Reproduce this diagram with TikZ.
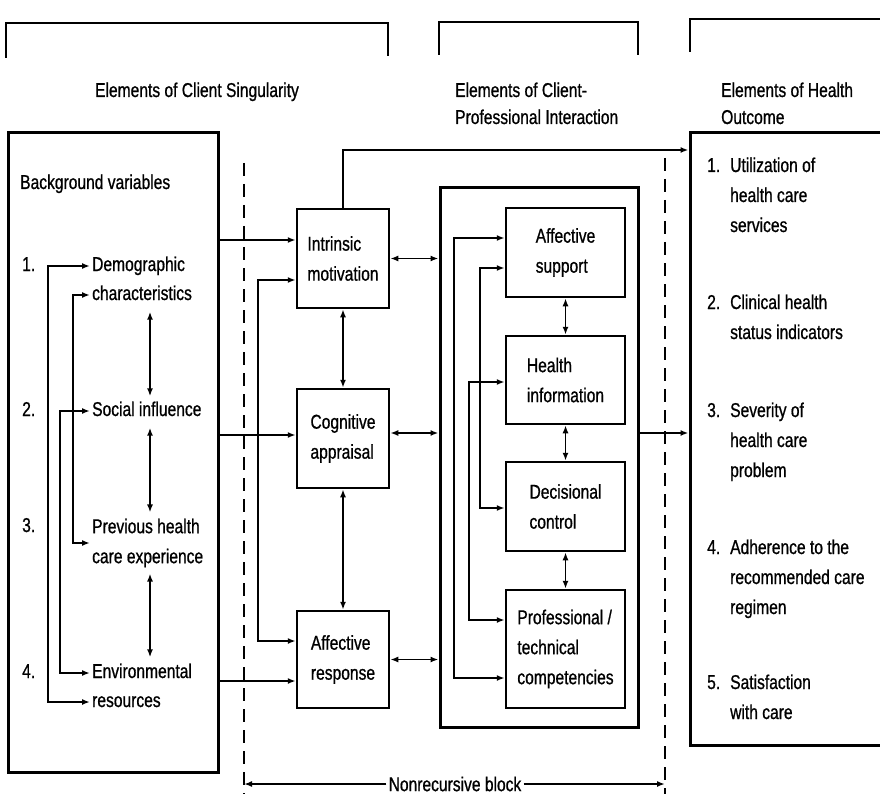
\documentclass[tikz,border=0pt]{standalone}
\usepackage{fontspec}
\setmainfont{Liberation Sans}[FakeStretch=0.78, FakeBold=0.8]
\usetikzlibrary{arrows.meta,calc}
\begin{document}
\begin{tikzpicture}[x=1pt,y=-1pt,
  txt/.style={font=\fontsize{20}{30}\selectfont, inner sep=0pt},
  head/.style={font=\fontsize{20}{27}\selectfont, inner sep=0pt},
  lbl/.style={txt, anchor=west, inner xsep=2pt, text height=14.5pt, text depth=4.5pt},
  outerbox/.style={draw, line width=3pt, inner sep=0pt},
  box/.style={draw, line width=2.5pt, txt, align=left},
  con/.style={line width=1.8pt},
  arr/.style={con, -{Latex[length=8pt,width=6pt]}},
  dbl/.style={con, {Latex[length=8pt,width=6pt]}-{Latex[length=8pt,width=6pt]}},
  dashline/.style={line width=1.7pt, dash pattern=on 13pt off 8pt}]
\useasboundingbox (0,0) rectangle (880,794);
\clip (0,0) rectangle (880,794);
\fill[white] (0,0) rectangle (880,794);

% top brackets
\draw[con] (6,58) -- (6,23) -- (388,23) -- (388,56);
\draw[con] (439,55) -- (439,22) -- (638,22) -- (638,55);
\draw[con] (690,52) -- (690,19) -- (890,19);

% headings
\node[head, anchor=base] (h1) at (197,97) {Elements of Client Singularity};
\node[head, anchor=base west, align=left] (h2) at (455,124) {Elements of Client-\\Professional Interaction};
\node[head, anchor=base west, align=left] (h3) at (721,124) {Elements of Health\\Outcome};

% left box
\node[outerbox, minimum width=210pt, minimum height=639pt] (bg) at (113,452.5) {};
\node[txt, anchor=base west] (bgt) at (20,189) {Background variables};
\node[lbl] (n1) at (20,266) {1.};
\node[lbl] (n2) at (20,411) {2.};
\node[lbl] (n3) at (20,527) {3.};
\node[lbl] (n4) at (20,673) {4.};
\node[lbl] (demo1) at (90,266) {Demographic};
\node[lbl] (demo2) at (90,295) {characteristics};
\node[lbl] (soc) at (90,411) {Social influence};
\node[txt, anchor=west, align=left, inner xsep=2pt] (prev) at (90,543) {Previous health\\care experience};
\node[lbl] (env1) at (90,673) {Environmental};
\node[lbl] (env2) at (90,702) {resources};

\coordinate (vx) at (150,0);
\draw[dbl, shorten <=7pt, shorten >=5pt] (demo2.south -| vx) -- (soc.north -| vx);
\draw[dbl, shorten <=7pt, shorten >=6pt] (soc.south -| vx) -- (prev.north -| vx);
\draw[dbl, shorten <=6pt, shorten >=6pt] (prev.south -| vx) -- (env1.north -| vx);

\coordinate (xA) at (48,0);
\coordinate (xB) at (73,0);
\coordinate (xC) at (60,0);
\draw[dbl] (demo1.west) -- (demo1.west -| xA) -- (env2.west -| xA) -- (env2.west);
\draw[dbl] (demo2.west) -- (demo2.west -| xB) -- (prev.west -| xB) -- (prev.west);
\draw[dbl] (soc.west) -- (soc.west -| xC) -- (env1.west -| xC) -- (env1.west);

% middle column
\node[box, minimum width=92pt, minimum height=99pt] (intr) at (343,258.5) {Intrinsic\\motivation};
\node[box, minimum width=92pt, minimum height=99pt] (cogn) at (343,438.5) {Cognitive\\appraisal};
\node[box, minimum width=92pt, minimum height=97pt] (affr) at (343,659.5) {Affective\\response};

% big box and inner boxes
\node[outerbox, minimum width=198pt, minimum height=539pt] (big) at (539,457.5) {};
\node[box, minimum width=119pt, minimum height=89pt] (asup) at (565.5,252.5) {Affective\\support};
\node[box, minimum width=119pt, minimum height=88pt] (hinf) at (565.5,380) {Health\\information};
\node[box, minimum width=119pt, minimum height=89pt] (dcon) at (565.5,506.5) {Decisional\\control};
\node[box, minimum width=119pt, minimum height=118pt] (prof) at (565.5,649) {Professional /\\technical\\competencies};

% outcome box
\node[outerbox, minimum width=210pt, minimum height=612pt] (outc) at (795,439) {};
\node[txt, anchor=base west] (o1n) at (707,172) {1.};
\node[txt, anchor=base west, align=left] (o1) at (730,232) {Utilization of\\health care\\services};
\node[txt, anchor=base west] (o2n) at (707,309) {2.};
\node[txt, anchor=base west, align=left] (o2) at (730,339) {Clinical health\\status indicators};
\node[txt, anchor=base west] (o3n) at (707,417) {3.};
\node[txt, anchor=base west, align=left] (o3) at (730,477) {Severity of\\health care\\problem};
\node[txt, anchor=base west] (o4n) at (707,554) {4.};
\node[txt, anchor=base west, align=left] (o4) at (730,614) {Adherence to the\\recommended care\\regimen};
\node[txt, anchor=base west] (o5n) at (707,689) {5.};
\node[txt, anchor=base west, align=left] (o5) at (730,719) {Satisfaction\\with care};

% row coordinates
\coordinate (r150) at (0,150);
\coordinate (r240) at (0,240);
\coordinate (r280) at (0,280);
\coordinate (r435) at (0,435);
\coordinate (r433) at (0,433);
\coordinate (r641) at (0,641);
\coordinate (r681) at (0,681);
\coordinate (xL) at (258,0);

\draw[arr] (bg.east |- r240) -- (intr.west |- r240);
\draw[arr] (bg.east |- r435) -- (cogn.west |- r435);
\draw[arr] (bg.east |- r681) -- (affr.west |- r681);
\draw[dbl] (intr.west |- r280) -| (xL |- r641) -- (affr.west |- r641);
\draw[arr] (intr.north) |- (outc.west |- r150);
\draw[dbl] (intr.south) -- (cogn.north);
\draw[dbl] (cogn.south) -- (affr.north);
\draw[dbl] (intr.east) -- (intr.east -| big.west);
\draw[dbl] (cogn.east |- r433) -- (big.west |- r433);
\draw[dbl] (affr.east) -- (affr.east -| big.west);
\draw[arr] (big.east |- r433) -- (outc.west |- r433);

% inner feedback lines
\coordinate (xa) at (454,0);
\coordinate (xb) at (480,0);
\coordinate (xc) at (469,0);
\coordinate (r238) at (0,238);
\coordinate (r268) at (0,268);
\coordinate (r382) at (0,382);
\coordinate (r508) at (0,508);
\coordinate (r620) at (0,620);
\coordinate (r678) at (0,678);
\draw[dbl] (asup.west |- r238) -| (xa |- r678) -- (prof.west |- r678);
\draw[dbl] (asup.west |- r268) -| (xb |- r508) -- (dcon.west |- r508);
\draw[dbl] (hinf.west |- r382) -| (xc |- r620) -- (prof.west |- r620);
\draw[dbl] (asup.south) -- (hinf.north);
\draw[dbl] (hinf.south) -- (dcon.north);
\draw[dbl] (dcon.south) -- (prof.north);

% nonrecursive block
\coordinate (d1t) at (244,163);
\coordinate (d1b) at (244,800);
\coordinate (d2t) at (665,158);
\coordinate (d2b) at (665,800);
\draw[dashline] (d1t) -- (d1b);
\draw[dashline] (d2t) -- (d2b);
\node[txt, inner xsep=2pt] (nrb) at (455,784) {Nonrecursive block};
\draw[arr] (nrb.west) -- (nrb.west -| d1t);
\draw[arr] (nrb.east) -- (nrb.east -| d2t);
\end{tikzpicture}
\end{document}
